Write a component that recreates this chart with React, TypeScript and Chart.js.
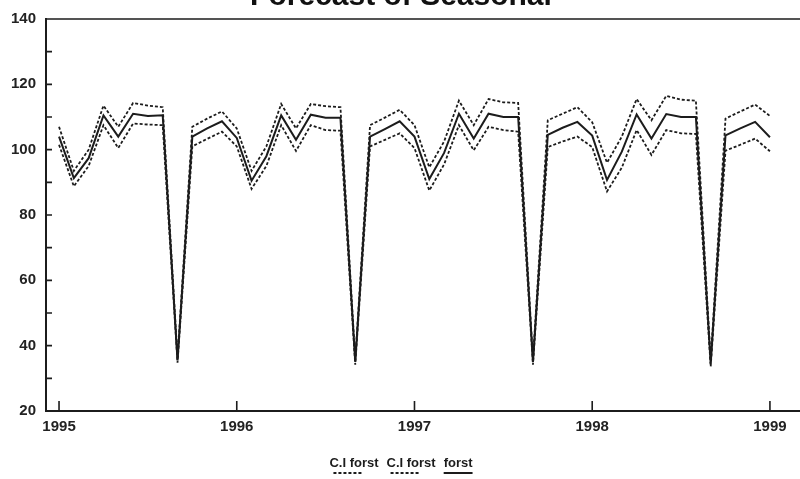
import React, { useEffect, useRef } from "react";
import { Chart, registerables } from "chart.js";
Chart.register(...registerables);

const chartTitle = "Forecast of Seasonal";
const months = [
  "1995-01", "1995-02", "1995-03", "1995-04", "1995-05", "1995-06", "1995-07", "1995-08", "1995-09", "1995-10", "1995-11", "1995-12",
  "1996-01", "1996-02", "1996-03", "1996-04", "1996-05", "1996-06", "1996-07", "1996-08", "1996-09", "1996-10", "1996-11", "1996-12",
  "1997-01", "1997-02", "1997-03", "1997-04", "1997-05", "1997-06", "1997-07", "1997-08", "1997-09", "1997-10", "1997-11", "1997-12",
  "1998-01", "1998-02", "1998-03", "1998-04", "1998-05", "1998-06", "1998-07", "1998-08", "1998-09", "1998-10", "1998-11", "1998-12",
  "1999-01",
];
const forecast = [
  104, 91.3, 97.4, 110.5, 104, 111, 110.3, 110.5, 35.5, 104, 106.5, 108.7,
  103.6, 90.5, 98, 110.5, 103, 110.7, 109.8, 109.8, 35, 104, 106.3, 108.7,
  104, 91, 99, 111, 103.4, 111, 110, 110, 35, 104.5, 106.7, 108.5,
  104.3, 90.7, 99.4, 110.8, 103.4, 110.9, 110, 110, 34.5, 104.4, 106.5, 108.5,
  103.8,
];
const upperCI = [
  107, 93.5, 100, 113.5, 107, 114.3, 113.5, 113, 36.2, 107, 109.5, 111.7,
  106.5, 93.5, 101, 114, 106.5, 114, 113.3, 113, 35.8, 107.5, 109.8, 112.2,
  107.5, 94.6, 102.5, 115, 107.5, 115.5, 114.5, 114.3, 35.8, 109, 111, 113,
  108.4, 96, 104, 115.5, 109, 116.5, 115.3, 115, 35.4, 109.5, 111.7, 113.8,
  110.3,
];
const lowerCI = [
  101.5, 88.8, 95, 107.5, 100.5, 108, 107.7, 107.5, 34.8, 101, 103.3, 105.5,
  101, 88, 95, 107.5, 99.6, 107.5, 106, 105.8, 34.2, 101, 103, 105,
  100.5, 87.5, 95.5, 107.5, 99.8, 107, 106, 105.5, 34.2, 100.8, 102.5, 104,
  100.8, 87.2, 94.5, 106, 98.4, 106, 105, 104.8, 33.6, 99.7, 101.5, 103.4,
  99.5,
];
const yearTicks = [1995, 1996, 1997, 1998, 1999];
const yTicks = [20, 40, 60, 80, 100, 120, 140];
const legendLabels = ["C.I forst", "C.I forst", "forst"];

const monthIndex = (m: string) => {
  const [yr, mo] = m.split("-").map(Number);
  return (yr - 1995) * 12 + (mo - 1);
};
const toPoints = (vals: number[]) => vals.map((v, i) => ({ x: monthIndex(months[i]), y: v }));

const FONT = "'Liberation Sans', Arial, Helvetica, sans-serif";
const INK = "#1c1c1c";

const decor = {
  id: "decor",
  afterDraw(chart: any) {
    const { ctx, chartArea: ca, scales } = chart;
    const xs = scales.x;
    const ys = scales.y;
    ctx.save();
    ctx.strokeStyle = INK;
    ctx.lineWidth = 1.6;
    ctx.setLineDash([]);
    ctx.beginPath();
    ctx.moveTo(ca.left, ca.top);
    ctx.lineTo(ca.right, ca.top);
    for (let v = yTicks[0]; v <= yTicks[yTicks.length - 1]; v += 10) {
      const py = ys.getPixelForValue(v);
      ctx.moveTo(ca.left, py);
      ctx.lineTo(ca.left + 6, py);
    }
    yearTicks.forEach((yr) => {
      const px = xs.getPixelForValue((yr - 1995) * 12);
      ctx.moveTo(px, ca.bottom);
      ctx.lineTo(px, ca.bottom - 10);
    });
    ctx.stroke();

    // title (mostly cropped at top)
    ctx.font = `bold 30px ${FONT}`;
    ctx.fillStyle = "#111";
    ctx.textAlign = "center";
    ctx.textBaseline = "alphabetic";
    ctx.fillText(chartTitle, 401, 5);

    // legend with samples under text
    ctx.font = `bold 13px ${FONT}`;
    ctx.textAlign = "left";
    ctx.textBaseline = "middle";
    const gap = 8;
    const widths = legendLabels.map((l) => ctx.measureText(l).width);
    const total = widths.reduce((a, b) => a + b, 0) + gap * (legendLabels.length - 1);
    let x = 401 - total / 2;
    legendLabels.forEach((lab, i) => {
      ctx.fillStyle = INK;
      ctx.fillText(lab, x, 463);
      ctx.beginPath();
      ctx.lineWidth = 2;
      if (i < 2) {
        ctx.setLineDash([3, 2]);
        ctx.moveTo(x + 4, 473);
        ctx.lineTo(x + 34, 473);
      } else {
        ctx.setLineDash([]);
        ctx.moveTo(x, 473);
        ctx.lineTo(x + widths[i], 473);
      }
      ctx.stroke();
      x += widths[i] + gap;
    });
    ctx.restore();
  },
};

export default function App() {
  const ref = useRef<HTMLCanvasElement | null>(null);
  useEffect(() => {
    if (!ref.current) return;
    const chart = new Chart(ref.current, {
      type: "line",
      data: {
        datasets: [
          { label: legendLabels[0], data: toPoints(upperCI), borderColor: INK, borderWidth: 1.8, borderDash: [3, 2], pointRadius: 0, tension: 0, fill: false },
          { label: legendLabels[1], data: toPoints(lowerCI), borderColor: INK, borderWidth: 1.8, borderDash: [3, 2], pointRadius: 0, tension: 0, fill: false },
          { label: legendLabels[2], data: toPoints(forecast), borderColor: INK, borderWidth: 2, pointRadius: 0, tension: 0, fill: false },
        ],
      },
      options: {
        responsive: false,
        animation: false,
        layout: { padding: { top: 16, left: 0, right: 0, bottom: 0 } },
        plugins: { legend: { display: false }, title: { display: false }, tooltip: { enabled: false } },
        scales: {
          x: {
            type: "linear",
            min: -0.88,
            max: 50.03,
            grid: { display: false, drawTicks: false },
            border: { display: true, color: INK, width: 2 },
            ticks: {
              padding: 7,
              color: "#222",
              font: { family: FONT, size: 15, weight: "bold" },
              maxRotation: 0,
              autoSkip: false,
              callback: (v: any) => String(1995 + Math.round(Number(v) / 12)),
            },
            afterBuildTicks: (s: any) => {
              s.ticks = yearTicks.map((yr) => ({ value: (yr - 1995) * 12 }));
            },
            afterFit: (s: any) => {
              s.height = 68;
            },
          },
          y: {
            min: 20,
            max: 140,
            grid: { display: false, drawTicks: false },
            border: { display: true, color: INK, width: 2 },
            ticks: {
              padding: 10,
              color: "#222",
              font: { family: FONT, size: 15, weight: "bold" },
            },
            afterBuildTicks: (s: any) => {
              s.ticks = yTicks.map((v) => ({ value: v }));
            },
            afterFit: (s: any) => {
              s.width = 46;
            },
          },
        },
      },
      plugins: [decor],
    });
    return () => chart.destroy();
  }, []);
  return (
    <div style={{ position: "fixed", left: 0, top: 0, width: 800, height: 479, background: "#fff" }}>
      <canvas ref={ref} width={800} height={479} />
    </div>
  );
}
